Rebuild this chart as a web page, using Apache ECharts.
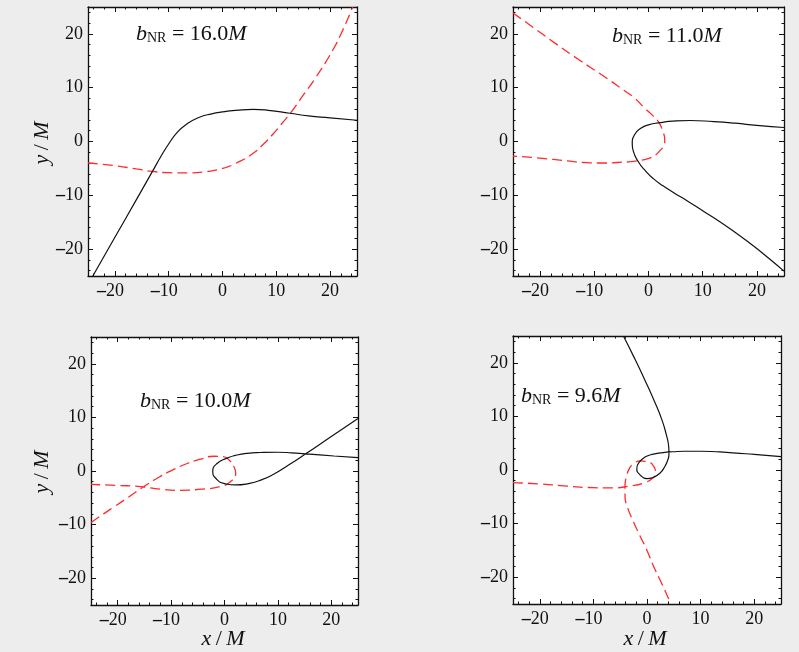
<!DOCTYPE html>
<html>
<head>
<meta charset="utf-8">
<script src="https://cdn.jsdelivr.net/npm/echarts@6/dist/echarts.min.js"></script>
<style>
  html, body { margin: 0; padding: 0; background: #ededed; }
  #chart { width: 799px; height: 652px; }
</style>
</head>
<body>
<div id="chart"></div>
<script>
// ---- data ----
const TICKS = [-20, -10, 0, 10, 20];
const MINOR_TICKS = [-24, -22, -18, -16, -14, -12, -8, -6, -4, -2, 2, 4, 6, 8, 12, 14, 16, 18, 22, 24];
const B_VALUES = ['16.0', '11.0', '10.0', '9.6'];

const P1_BLACK = [[-24.1,-25],[-20,-17.8],[-16,-10.8],[-13.1,-5.7],[-11.4,-2.7],[-10.1,-0.6],[-8.5,1.6],[-6.7,3.2],[-4.4,4.45],[-2,5.15],[0,5.5],[3,5.85],[5.7,5.96],[8.5,5.8],[12.5,5.25],[16,4.75],[20,4.4],[25,3.95]];
const P1_RED = [[-25,-4.0],[-20,-4.5],[-16,-5.1],[-13.1,-5.55],[-10,-5.8],[-6.4,-5.85],[-3,-5.6],[0,-5.0],[3,-3.8],[5.7,-2.2],[7.5,-0.6],[9.4,1.4],[11,3.3],[12.8,5.5],[15,8.6],[17.4,12.0],[20.5,17.0],[22.3,20.6],[24.2,25]];

const P2_BLACK = [[25,2.6],[20,3.0],[16,3.4],[12,3.7],[7.7,3.9],[4.5,3.8],[2.2,3.5],[0,3.1],[-1.5,2.4],[-2.6,1.2],[-3.0,-0.4],[-2.8,-1.8],[-1.85,-3.8],[-0.6,-5.4],[0.9,-6.9],[2.6,-8.2],[4.8,-9.6],[7.1,-11.0],[10.2,-13.0],[13.3,-15.0],[16.4,-17.2],[19.5,-19.5],[22.3,-21.8],[25,-24.1]];
const P2_RED = [[-25,23.9],[-21,21.0],[-17,18.1],[-12.7,15.1],[-8.5,12.3],[-4.6,9.55],[-2.5,8.0],[-0.9,6.4],[0.6,5.0],[1.85,3.65],[2.6,2.0],[3.0,0.25],[2.8,-0.8],[2.2,-1.6],[1.3,-2.5],[0.3,-3.05],[-2.15,-3.6],[-5.85,-3.9],[-8.9,-4.0],[-12,-3.9],[-15.1,-3.6],[-20,-3.1],[-25,-2.7]];

const P3_BLACK = [[25,9.8],[20,6.45],[15.2,3.2],[12,1.1],[9.2,-0.6],[6.8,-1.7],[4.5,-2.35],[2.1,-2.6],[0,-2.35],[-1.4,-1.6],[-2.2,-0.1],[-1.4,1.4],[0.5,2.4],[2,2.9],[4.25,3.3],[6.7,3.45],[9.9,3.5],[12.5,3.4],[15.2,3.2],[20.5,2.8],[25,2.5]];
const P3_RED = [[-25,-9.6],[-22.5,-7.9],[-20.7,-6.7],[-18,-4.9],[-15.1,-2.9],[-12,-1.0],[-9.5,0.3],[-7,1.4],[-4.5,2.2],[-2,2.75],[-0.3,2.7],[0.9,2.0],[1.75,0.8],[2.1,-0.4],[1.1,-2.0],[-0.75,-2.9],[-4.5,-3.4],[-8.2,-3.6],[-12,-3.4],[-15.7,-2.9],[-20,-2.7],[-25,-2.5]];

const P4_BLACK = [[-4.4,25],[-2.5,21.2],[-0.5,17],[1.4,12.8],[2.8,9.3],[3.6,6.6],[4.05,4.3],[4.1,3.0],[3.85,1.8],[3.3,0.6],[2.4,-0.6],[1.2,-1.35],[0,-1.6],[-1.3,-0.9],[-1.9,0.3],[-1.4,1.5],[-0.2,2.5],[1.2,2.95],[3,3.25],[4.8,3.4],[7,3.5],[10,3.5],[16,3.2],[20,2.9],[25,2.5]];
const P4_RED = [[-25,-2.35],[-20,-2.6],[-15,-3.0],[-10,-3.3],[-6.9,-3.35],[-3.2,-3.0],[-0.4,-2.35],[1.2,-1.4],[1.6,-0.5],[1.2,0.75],[0.25,1.5],[-1.3,1.7],[-2.55,1.06],[-3.2,0.45],[-3.8,-1.1],[-4.1,-3.0],[-4.1,-5.0],[-3.7,-6.8],[-2.6,-9.5],[-1.3,-12.3],[0,-15.0],[1.2,-17.9],[2.8,-21.3],[4.2,-24.4],[4.45,-25]];

const BLACK_SERIES = [P1_BLACK, P2_BLACK, P3_BLACK, P4_BLACK];
const RED_SERIES = [P1_RED, P2_RED, P3_RED, P4_RED];

// ---- layout ----
const GRIDS = [
  {left: 88, top: 7, width: 269, height: 269},
  {left: 513, top: 7, width: 271, height: 269},
  {left: 91, top: 337, width: 267, height: 268},
  {left: 513, top: 336, width: 268, height: 268}
];
const LABEL_POS = [[136, 33], [612, 35], [140, 400], [521, 395]];
const FONT = '"Liberation Serif", "DejaVu Serif", serif';
const AXIS_COLOR = '#111';

function negRich(v, pad) {
  if (v < 0) return '{m|\u2013}' + Math.abs(v) + (pad ? '{h|\u2013}' : '');
  return String(v);
}
const labelRich = {
  m: {fontFamily: FONT, fontSize: 18, fontWeight: 'bold', color: AXIS_COLOR},
  h: {fontFamily: FONT, fontSize: 18, fontWeight: 'bold', color: 'rgba(0,0,0,0)'}
};

function makeAxis(dim, gi, pos, major, showLabel) {
  const ax = {
    gridIndex: gi, type: 'value', min: -25, max: 25, position: pos,
    splitLine: {show: false},
    axisLine: {show: major, onZero: false, lineStyle: {color: AXIS_COLOR, width: 1.3}},
    axisTick: {show: true, inside: true, length: major ? 5 : 2.5,
      customValues: major ? TICKS : MINOR_TICKS,
      lineStyle: {color: AXIS_COLOR, width: 1}},
    axisLabel: {show: showLabel}
  };
  if (showLabel) {
    ax.axisLabel = {
      show: true, customValues: TICKS,
      fontFamily: FONT, fontSize: 18, color: AXIS_COLOR,
      margin: dim === 'x' ? 6 : 5,
      formatter: (v) => negRich(v, dim === 'x'),
      rich: labelRich
    };
  }
  return ax;
}

const xAxes = [], yAxes = [], series = [], grids = [];
GRIDS.forEach((g, i) => {
  grids.push(Object.assign({show: true, backgroundColor: '#ffffff', borderWidth: 0}, g));
  xAxes.push(makeAxis('x', i, 'bottom', true, true));
  xAxes.push(makeAxis('x', i, 'bottom', false, false));
  xAxes.push(makeAxis('x', i, 'top', true, false));
  xAxes.push(makeAxis('x', i, 'top', false, false));
  yAxes.push(makeAxis('y', i, 'left', true, true));
  yAxes.push(makeAxis('y', i, 'left', false, false));
  yAxes.push(makeAxis('y', i, 'right', true, false));
  yAxes.push(makeAxis('y', i, 'right', false, false));
  series.push({
    type: 'line', xAxisIndex: 4 * i, yAxisIndex: 4 * i,
    data: RED_SERIES[i], showSymbol: false, symbol: 'none', smooth: 0.55,
    clip: true, animation: false,
    lineStyle: {color: '#ff2a2a', width: 1.3, type: [10, 5]}
  });
  series.push({
    type: 'line', xAxisIndex: 4 * i, yAxisIndex: 4 * i,
    data: BLACK_SERIES[i], showSymbol: false, symbol: 'none', smooth: 0.55,
    clip: true, animation: false,
    lineStyle: {color: '#111111', width: 1.2}
  });
});

const graphics = [];
B_VALUES.forEach((b, i) => {
  graphics.push({
    type: 'text', x: LABEL_POS[i][0], y: LABEL_POS[i][1], z: 100,
    style: {
      text: '{i|b}{s|NR}{r| = ' + b + '}{i|M}',
      textAlign: 'left', textVerticalAlign: 'middle',
      rich: {
        i: {fontFamily: FONT, fontStyle: 'italic', fontSize: 22, lineHeight: 24, verticalAlign: 'bottom', fill: '#111'},
        r: {fontFamily: FONT, fontSize: 22, lineHeight: 24, verticalAlign: 'bottom', fill: '#111'},
        s: {fontFamily: FONT, fontSize: 14, lineHeight: 11, verticalAlign: 'bottom', fill: '#111'}
      }
    }
  });
});
const axisNameRich = {
  i: {fontFamily: FONT, fontStyle: 'italic', fontSize: 22, fill: '#111'},
  n: {fontFamily: FONT, fontSize: 22, fill: '#111'}
};
[[42, 143], [42, 472]].forEach(p => {
  graphics.push({
    type: 'text', x: p[0], y: p[1], rotation: Math.PI / 2, z: 100,
    style: {text: '{i|y}{n|\u2009/\u2009}{i|M}', textAlign: 'center', textVerticalAlign: 'middle', rich: axisNameRich}
  });
});
[[223, 639], [645, 639]].forEach(p => {
  graphics.push({
    type: 'text', x: p[0], y: p[1], z: 100,
    style: {text: '{i|x}{n|\u2009/\u2009}{i|M}', textAlign: 'center', textVerticalAlign: 'middle', rich: axisNameRich}
  });
});

const chart = echarts.init(document.getElementById('chart'), null, {renderer: 'canvas'});
chart.setOption({
  backgroundColor: '#ededed',
  animation: false,
  grid: grids,
  xAxis: xAxes,
  yAxis: yAxes,
  series: series,
  graphic: graphics
});
</script>
</body>
</html>
